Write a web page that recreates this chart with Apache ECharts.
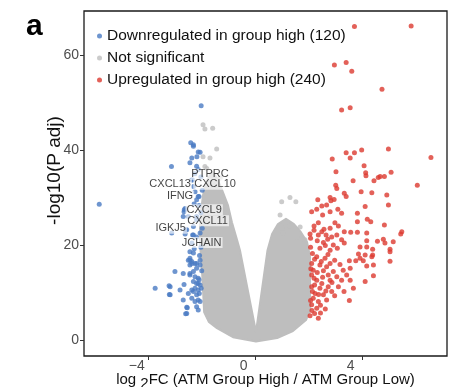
<!DOCTYPE html>
<html>
<head>
<meta charset="utf-8">
<script src="https://cdn.jsdelivr.net/npm/echarts@6/dist/echarts.min.js"></script>
<style>
  html, body { margin: 0; padding: 0; background: #fff; }
  #chart { width: 449px; height: 387px; }
</style>
</head>
<body>
<div id="chart"></div>
<script>
// log2FC / -log10(padj) pairs
const downPoints = [
  [-2.04, 49.3], [-2.43, 41.5], [-2.33, 41.1], [-2.15, 39.6], [-2.08, 39.5], [-2.39, 38.3],
  [-2.46, 37.3], [-3.15, 36.5], [-2.21, 36.6], [-2.15, 35.9], [-2.39, 33.7], [-2.33, 32.3],
  [-2.27, 31.2], [-2.15, 30.2], [-2.21, 29.5], [-2.64, 27.7], [-2.68, 27.0], [-2.71, 26.0],
  [-2.52, 26.0], [-2.21, 25.3], [-2.33, 23.9], [-2.64, 23.2], [-3.14, 22.5], [-2.64, 22.3],
  [-2.33, 22.1], [-2.21, 21.7], [-2.39, 20.4], [-2.46, 18.6], [-2.33, 18.3], [-2.52, 16.8],
  [-2.39, 16.5], [-2.27, 16.1], [-2.46, 15.8], [-2.21, 15.1], [-2.33, 14.4], [-3.02, 14.4],
  [-2.71, 14.0], [-2.46, 13.7], [-2.27, 13.3], [-2.15, 13.0], [-2.33, 12.3], [-2.21, 11.9],
  [-2.08, 11.6], [-3.76, 10.9], [-3.20, 11.2], [-2.83, 10.5], [-2.39, 10.5], [-2.27, 10.9],
  [-2.15, 10.5], [-2.52, 9.8], [-2.21, 9.5], [-3.20, 9.5], [-2.39, 8.8], [-2.15, 8.4],
  [-2.27, 8.1], [-2.71, 8.4], [-2.21, 7.0], [-2.56, 6.8], [-2.58, 5.6], [-2.15, 6.3],
  [-5.85, 28.6], [-2.33, 40.8], [-2.36, 33.7], [-2.12, 30.2], [-2.67, 27.4], [-2.21, 26.0],
  [-2.36, 22.1], [-2.08, 22.5], [-2.58, 23.2], [-2.46, 16.8], [-2.21, 16.1], [-2.08, 16.8],
  [-3.24, 11.4], [-3.23, 9.6], [-2.68, 11.7], [-2.58, 6.9], [-2.62, 5.5], [-2.46, 14.0],
  [-2.08, 8.1], [-2.11, 9.8], [-2.33, 10.2], [-2.15, 11.9], [-2.39, 16.1], [-2.08, 15.8],
  [-2.46, 17.2], [-2.05, 19.5], [-2.10, 17.8], [-2.02, 14.6], [-2.12, 12.7], [-2.04, 10.9],
  [-2.30, 19.2], [-2.00, 23.5], [-2.05, 26.8], [-2.12, 28.3], [-2.30, 28.7], [-2.00, 31.5],
  [-2.05, 34.3], [-2.28, 35.0], [-2.20, 38.6]
]

const upPoints = [
  [3.69, 66.0], [5.81, 66.1], [2.94, 57.9], [3.38, 58.4], [3.59, 56.6], [4.72, 52.8],
  [3.21, 48.4], [3.53, 48.9], [4.96, 40.2], [3.96, 40.0], [3.38, 39.4], [3.69, 39.4],
  [3.53, 38.3], [2.86, 38.1], [6.55, 38.4], [4.05, 36.7], [3.00, 35.4], [4.11, 35.2],
  [4.12, 34.6], [5.06, 35.3], [4.65, 34.4], [4.81, 34.4], [4.58, 34.2], [4.42, 33.5],
  [3.64, 33.5], [2.99, 32.6], [3.03, 31.9], [6.04, 32.6], [3.94, 31.2], [4.34, 31.0],
  [4.90, 30.5], [3.31, 30.9], [3.38, 30.2], [2.78, 30.0], [2.32, 29.5], [2.93, 29.6],
  [2.81, 29.3], [4.96, 28.4], [4.09, 28.1], [3.07, 27.5], [2.65, 28.4], [2.47, 28.2],
  [2.28, 27.5], [2.09, 27.0], [2.78, 27.0], [3.21, 26.7], [3.80, 26.7], [2.50, 26.3],
  [2.34, 24.7], [2.96, 24.7], [3.80, 24.9], [4.17, 25.4], [4.30, 24.9], [4.81, 24.2],
  [2.18, 24.0], [2.78, 23.5], [3.09, 24.0], [2.47, 22.8], [3.31, 22.8], [3.55, 22.7],
  [3.80, 22.7], [4.15, 22.5], [5.46, 22.8], [5.42, 22.3], [2.03, 22.3], [2.34, 22.1],
  [2.63, 22.1], [2.84, 21.7], [3.03, 22.1], [2.69, 21.2], [3.21, 21.1], [4.55, 20.8],
  [4.77, 21.2], [5.14, 20.7], [4.15, 20.9], [2.53, 20.5], [2.90, 20.0], [3.31, 20.4],
  [4.83, 20.4], [3.05, 19.3], [2.78, 18.9], [2.40, 19.3], [3.90, 19.6], [4.15, 19.6],
  [4.37, 19.1], [5.02, 19.1], [2.28, 17.5], [2.59, 17.2], [3.84, 18.1], [4.09, 17.9],
  [4.37, 17.9], [3.50, 16.7], [3.74, 16.7], [3.90, 17.2], [4.02, 16.7], [2.09, 16.1],
  [2.40, 15.8], [2.78, 16.1], [5.02, 16.6], [4.15, 15.6], [4.40, 15.8], [2.15, 14.7],
  [2.53, 14.6], [2.90, 14.4], [3.27, 14.7], [3.53, 15.1], [2.09, 13.7], [2.71, 13.7],
  [3.03, 13.3], [3.40, 13.7], [4.40, 13.5], [4.09, 12.3], [2.28, 12.6], [2.47, 11.9],
  [2.78, 12.6], [3.21, 12.6], [3.53, 12.6], [2.09, 11.2], [2.40, 10.9], [2.71, 11.2],
  [3.09, 11.2], [3.65, 10.9], [2.22, 9.8], [2.53, 9.5], [2.84, 10.2], [2.15, 8.8],
  [2.34, 8.1], [2.65, 8.4], [3.50, 8.3], [2.09, 7.4], [2.28, 6.7], [2.03, 5.1],
  [2.34, 4.6], [4.34, 17.5], [5.02, 18.6],
  [2.05, 19.5], [2.12, 18.2], [2.20, 17.0], [2.06, 15.0], [2.18, 13.0], [2.30, 14.2],
  [2.45, 16.5], [2.60, 19.9], [2.12, 10.2], [2.35, 9.6], [2.05, 8.3], [2.50, 13.2],
  [2.20, 11.6], [2.62, 10.3], [2.10, 6.2], [2.42, 7.3], [2.05, 21.4], [2.30, 20.9],
  [2.18, 23.1], [2.55, 23.3], [2.70, 18.0], [2.95, 16.8], [2.65, 15.4], [3.15, 15.9],
  [2.85, 12.1], [2.95, 9.3], [3.30, 10.2], [2.42, 5.7], [2.60, 6.5], [2.20, 5.6]
]

// loose grey genes sitting outside the dense cloud
const nsPoints = [
  [-1.97, 45.3], [-1.61, 44.6], [-1.90, 44.4], [-1.46, 40.2], [-1.97, 38.6], [-1.71, 38.3],
  [-1.90, 36.5], [-1.83, 36.1], [-1.56, 34.7], [-1.33, 34.1], [-1.63, 32.6],
  [0.97, 29.1], [1.28, 30.0], [1.50, 29.1], [0.91, 26.3], [0.97, 23.6], [1.28, 24.0],
  [1.03, 22.5], [1.53, 21.7], [1.66, 23.8], [1.84, 21.1]
]

// outline of the solid grey cloud of non-significant genes
const nsCloud = [
  [-1.63, 35.4], [-1.86, 33.3], [-1.97, 30.5], [-2.04, 27.4], [-2.08, 24.2], [-2.08, 20.0],
  [-2.02, 15.8], [-1.97, 10.5], [-1.93, 5.9], [-1.75, 3.8], [-1.45, 2.5], [-0.85, 0.6],
  [0.01, -0.3], [0.80, 0.4], [1.39, 1.9], [1.88, 4.2], [2.03, 6.3], [2.03, 17.5],
  [1.92, 20.6], [1.69, 22.7], [1.43, 24.4], [1.13, 25.5], [0.83, 24.4], [0.61, 22.3],
  [0.44, 18.9], [0.01, 1.7], [-0.59, 18.9], [-0.70, 21.1], [-0.89, 24.8], [-1.04, 28.4],
  [-1.26, 31.6], [-1.45, 34.1]
]

const geneNames = ['PTPRC', 'CXCL13', 'CXCL10', 'IFNG', 'CXCL9', 'CXCL11', 'IGKJ5', 'JCHAIN']
const geneX = [-1.71, -3.20, -1.52, -2.83, -1.93, -1.80, -3.18, -2.02]
const geneY = [34.9, 32.8, 32.8, 30.3, 27.4, 25.1, 23.5, 20.5]

const xTicks = [-4, 0, 4]
const yTicks = [0, 20, 40, 60]

const nameDown = 'Downregulated in group high (120)'
const nameNs = 'Not significant'
const nameUp = 'Upregulated in group high (240)'

const colors = { down: '#4a7bc3', ns: '#bebebe', up: '#dc3a30' }
const font = '"Liberation Sans", Arial, Helvetica, sans-serif'

const ec = echarts.init(document.getElementById('chart'), null, { renderer: 'canvas' })

const options = {
  animation: false,
  backgroundColor: '#fff',
  textStyle: { fontFamily: font },
  grid: {
    left: 84,
    right: 2,
    top: 11,
    bottom: 31,
    outerBoundsMode: 'none',
    show: true,
    borderColor: '#1a1a1a',
    borderWidth: 1.3,
    backgroundColor: 'transparent',
  },
  legend: {
    orient: 'vertical',
    left: 97,
    top: 27,
    padding: 0,
    itemGap: 4,
    itemWidth: 5,
    itemHeight: 5,
    icon: 'circle',
    data: [nameDown, nameNs, nameUp],
    textStyle: { fontSize: 15.5, color: '#111', lineHeight: 18, fontFamily: font },
  },
  graphic: [
    {
      type: 'text',
      left: 26,
      top: 12,
      style: { text: 'a', fontSize: 30, fontWeight: 'bold', fill: '#000', fontFamily: font },
    },
  ],
  xAxis: {
    type: 'value',
    min: -6.42,
    max: 7.15,
    splitLine: { show: false },
    axisLine: { show: false, onZero: false },
    axisTick: { show: true, customValues: xTicks, length: 4, lineStyle: { color: '#333' } },
    axisLabel: {
      customValues: xTicks,
      formatter: (v) => String(v).replace('-', '\u2212'),
      color: '#4d4d4d',
      fontSize: 14,
      margin: 3,
      padding: [0, 24, 0, 0],
    },
    name: 'log {s|2}FC (ATM Group High / ATM Group Low)',
    nameLocation: 'middle',
    nameGap: 12,
    nameMoveOverlap: false,
    nameTextStyle: {
      fontSize: 15,
      color: '#111',
      rich: { s: { fontSize: 15, color: '#111', padding: [8, 0, 0, 0] } },
    },
  },
  yAxis: {
    type: 'value',
    min: -3.37,
    max: 69.26,
    splitLine: { show: false },
    axisLine: { show: false, onZero: false },
    axisTick: { show: true, customValues: yTicks, length: 4, lineStyle: { color: '#333' } },
    axisLabel: { customValues: yTicks, color: '#4d4d4d', fontSize: 14, margin: 5 },
    name: '-log10(P adj)',
    nameLocation: 'middle',
    nameGap: 20,
    nameMoveOverlap: false,
    nameTextStyle: { fontSize: 19, color: '#111', padding: [0, 0, 0, 26] },
  },
  series: [
    {
      name: 'cloud',
      type: 'custom',
      clip: true,
      silent: true,
      data: nsCloud,
      encode: { x: 0, y: 1 },
      renderItem(params, api) {
        if (params.dataIndex !== 0) return null
        return {
          type: 'polygon',
          shape: { points: nsCloud.map((p) => api.coord(p)) },
          style: { fill: colors.ns, stroke: colors.ns, lineWidth: 2, lineJoin: 'round' },
        }
      },
      z: 1,
    },
    {
      name: nameNs,
      type: 'scatter',
      data: nsPoints,
      symbolSize: 5,
      itemStyle: { color: colors.ns },
      z: 2,
    },
    {
      name: nameDown,
      type: 'scatter',
      data: downPoints,
      symbolSize: 5,
      itemStyle: { color: colors.down },
      z: 3,
    },
    {
      name: nameUp,
      type: 'scatter',
      data: upPoints,
      symbolSize: 5,
      itemStyle: { color: colors.up },
      z: 3,
    },
    {
      name: 'genes',
      type: 'scatter',
      symbolSize: 0,
      data: geneNames.map((g, i) => ({ name: g, value: [geneX[i], geneY[i]] })),
      label: {
        show: true,
        position: 'inside',
        formatter: (p) => p.name,
        fontSize: 11,
        color: '#111',
        backgroundColor: 'rgba(255,255,255,0.8)',
        padding: [0, 1],
      },
      z: 5,
    },
  ],
}
ec.setOption(options)
</script>
</body>
</html>
